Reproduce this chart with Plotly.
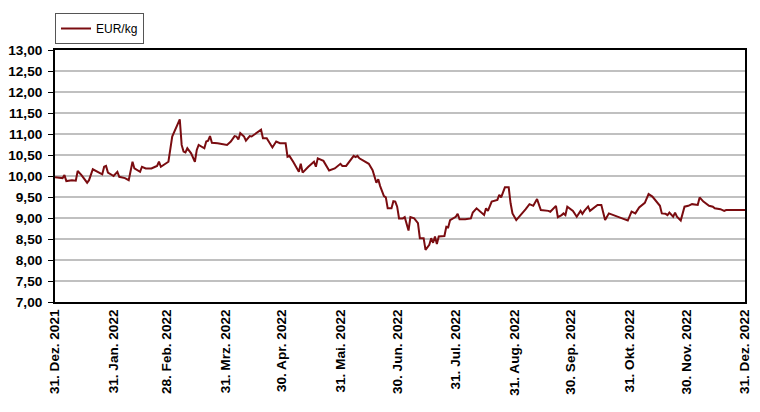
import plotly.graph_objects as go

# EUR/kg price series
dates = [
    "2021-12-31", "2022-01-04", "2022-01-05", "2022-01-06", "2022-01-09", "2022-01-11",
    "2022-01-12", "2022-01-14", "2022-01-17", "2022-01-18", "2022-01-20", "2022-01-23",
    "2022-01-25", "2022-01-26", "2022-01-27", "2022-01-28", "2022-01-31", "2022-02-02",
    "2022-02-03", "2022-02-06", "2022-02-08", "2022-02-10", "2022-02-11", "2022-02-14",
    "2022-02-15", "2022-02-17", "2022-02-20", "2022-02-22", "2022-02-23", "2022-02-24",
    "2022-02-25", "2022-03-01", "2022-03-02", "2022-03-03", "2022-03-07", "2022-03-08",
    "2022-03-09", "2022-03-10", "2022-03-11", "2022-03-13", "2022-03-15", "2022-03-16",
    "2022-03-17", "2022-03-20", "2022-03-21", "2022-03-22", "2022-03-23", "2022-03-24",
    "2022-03-27", "2022-03-30", "2022-04-01", "2022-04-03", "2022-04-05", "2022-04-06",
    "2022-04-07", "2022-04-08", "2022-04-10", "2022-04-11", "2022-04-13", "2022-04-14",
    "2022-04-16", "2022-04-19", "2022-04-20", "2022-04-22", "2022-04-25", "2022-04-27",
    "2022-04-29", "2022-05-02", "2022-05-03", "2022-05-04", "2022-05-06", "2022-05-09",
    "2022-05-10", "2022-05-11", "2022-05-14", "2022-05-17", "2022-05-18", "2022-05-19",
    "2022-05-22", "2022-05-25", "2022-05-28", "2022-05-31", "2022-06-01", "2022-06-03",
    "2022-06-07", "2022-06-08", "2022-06-09", "2022-06-10", "2022-06-15", "2022-06-17",
    "2022-06-19", "2022-06-20", "2022-06-21", "2022-06-23", "2022-06-24", "2022-06-25",
    "2022-06-27", "2022-06-28", "2022-06-29", "2022-06-30", "2022-07-01", "2022-07-03",
    "2022-07-04", "2022-07-06", "2022-07-07", "2022-07-09", "2022-07-11", "2022-07-12",
    "2022-07-14", "2022-07-15", "2022-07-17", "2022-07-18", "2022-07-19", "2022-07-20",
    "2022-07-21", "2022-07-22", "2022-07-25", "2022-07-26", "2022-07-27", "2022-07-28",
    "2022-07-31", "2022-08-01", "2022-08-02", "2022-08-05", "2022-08-08", "2022-08-09",
    "2022-08-11", "2022-08-13", "2022-08-15", "2022-08-16", "2022-08-17", "2022-08-19",
    "2022-08-21", "2022-08-22", "2022-08-23", "2022-08-24", "2022-08-26", "2022-08-28",
    "2022-08-29", "2022-08-30", "2022-09-01", "2022-09-03", "2022-09-06", "2022-09-08",
    "2022-09-10", "2022-09-12", "2022-09-14", "2022-09-18", "2022-09-19", "2022-09-22",
    "2022-09-23", "2022-09-25", "2022-09-26", "2022-09-27", "2022-09-28", "2022-10-01",
    "2022-10-03", "2022-10-05", "2022-10-06", "2022-10-07", "2022-10-09", "2022-10-10",
    "2022-10-12", "2022-10-14", "2022-10-16", "2022-10-18", "2022-10-20", "2022-10-24",
    "2022-10-27", "2022-10-30", "2022-11-01", "2022-11-03", "2022-11-05", "2022-11-08",
    "2022-11-10", "2022-11-12", "2022-11-14", "2022-11-16", "2022-11-17", "2022-11-19",
    "2022-11-20", "2022-11-21", "2022-11-23", "2022-11-24", "2022-11-25", "2022-11-27",
    "2022-11-29", "2022-12-01", "2022-12-03", "2022-12-06", "2022-12-07", "2022-12-09",
    "2022-12-12", "2022-12-14", "2022-12-15", "2022-12-18", "2022-12-20", "2022-12-21",
    "2022-12-31",
]
eur_kg = [
    9.97, 9.95, 10.02, 9.88, 9.90, 9.89,
    10.12, 10.02, 9.84, 9.90, 10.16, 10.08,
    10.04, 10.22, 10.24, 10.08, 10.00, 10.10,
    9.98, 9.95, 9.90, 10.34, 10.18, 10.10,
    10.22, 10.18, 10.18, 10.22, 10.24, 10.34,
    10.22, 10.34, 10.62, 10.94, 11.35, 10.74,
    10.58, 10.56, 10.66, 10.54, 10.34, 10.62,
    10.74, 10.66, 10.82, 10.84, 10.95, 10.79,
    10.78, 10.76, 10.74, 10.82, 10.95, 10.94,
    10.87, 11.02, 10.94, 10.84, 10.95, 10.94,
    11.00, 11.10, 10.90, 10.90, 10.68, 10.82,
    10.78, 10.78, 10.46, 10.48, 10.34, 10.10,
    10.29, 10.08, 10.22, 10.34, 10.22, 10.42,
    10.36, 10.13, 10.18, 10.29, 10.24, 10.24,
    10.48, 10.45, 10.48, 10.42, 10.29, 10.14,
    9.84, 9.92, 9.76, 9.52, 9.49, 9.23,
    9.23, 9.40, 9.39, 9.27, 8.99, 8.99,
    9.02, 8.70, 9.02, 8.99, 8.88, 8.52,
    8.52, 8.24, 8.36, 8.52, 8.41, 8.56,
    8.38, 8.56, 8.57, 8.79, 8.78, 8.95,
    9.03, 9.10, 8.97, 8.97, 8.99, 9.13,
    9.23, 9.15, 9.07, 9.23, 9.17, 9.39,
    9.41, 9.43, 9.55, 9.49, 9.73, 9.73,
    9.35, 9.11, 8.95, 9.05, 9.21, 9.33,
    9.29, 9.45, 9.19, 9.17, 9.15, 9.29,
    9.02, 9.07, 9.11, 9.07, 9.27, 9.17,
    9.03, 9.17, 9.10, 9.17, 9.27, 9.17,
    9.25, 9.31, 9.31, 8.95, 9.11, 9.05,
    8.99, 8.94, 9.15, 9.11, 9.25, 9.36,
    9.57, 9.51, 9.39, 9.29, 9.11, 9.10,
    9.07, 9.13, 9.03, 9.13, 9.03, 8.94,
    9.27, 9.29, 9.33, 9.31, 9.49, 9.39,
    9.29, 9.27, 9.23, 9.21, 9.17, 9.19,
    9.19,
]

tick_dates = ["2021-12-31", "2022-01-31", "2022-02-28", "2022-03-31", "2022-04-30",
              "2022-05-31", "2022-06-30", "2022-07-31", "2022-08-31", "2022-09-30",
              "2022-10-31", "2022-11-30", "2022-12-31"]
tick_labels = ["31. Dez. 2021", "31. Jan. 2022", "28. Feb. 2022", "31. Mrz. 2022",
               "30. Apr. 2022", "31. Mai. 2022", "30. Jun. 2022", "31. Jul. 2022",
               "31. Aug. 2022", "30. Sep. 2022", "31. Okt. 2022", "30. Nov. 2022",
               "31. Dez. 2022"]

# the page puts the figure 8px in from the top-left corner
W, H = 752, 404

fig = go.Figure()
fig.add_trace(go.Scatter(x=dates, y=eur_kg, mode="lines", name="EUR/kg",
                         line=dict(color="#7a0c10", width=2)))

fig.update_layout(
    width=W, height=H,
    margin=dict(l=47, r=15, t=42, b=110, autoexpand=False),
    paper_bgcolor="white", plot_bgcolor="white",
    font=dict(family="Liberation Sans, Arial", color="black"),
    separators=",.",
    showlegend=True,
    legend=dict(x=47 / W, y=1 - 5 / H, xref="container", yref="container",
                xanchor="left", yanchor="top",
                bgcolor="white", bordercolor="#555555", borderwidth=1,
                font=dict(size=12), itemwidth=30),
)
fig.update_xaxes(
    range=["2021-12-31", "2022-12-31"],
    tickvals=tick_dates, ticktext=tick_labels, tickangle=-90,
    tickfont=dict(size=13.6, family="Liberation Sans, Arial", weight="bold"),
    showgrid=False, showline=True, linecolor="black", linewidth=2, mirror=True,
    ticks="", zeroline=False, automargin=False,
)
fig.update_yaxes(
    range=[7, 13], dtick=0.5, tick0=7, tickformat=".2f",
    tickfont=dict(size=13.6, family="Liberation Sans, Arial", weight="bold"),
    showgrid=True, gridcolor="#c0c0c0", gridwidth=2,
    showline=True, linecolor="black", linewidth=2, mirror=True,
    ticks="outside", ticklen=5, tickcolor="black", zeroline=False, automargin=False,
    ticklabelstandoff=3,
)

fig.write_html("out.html")
